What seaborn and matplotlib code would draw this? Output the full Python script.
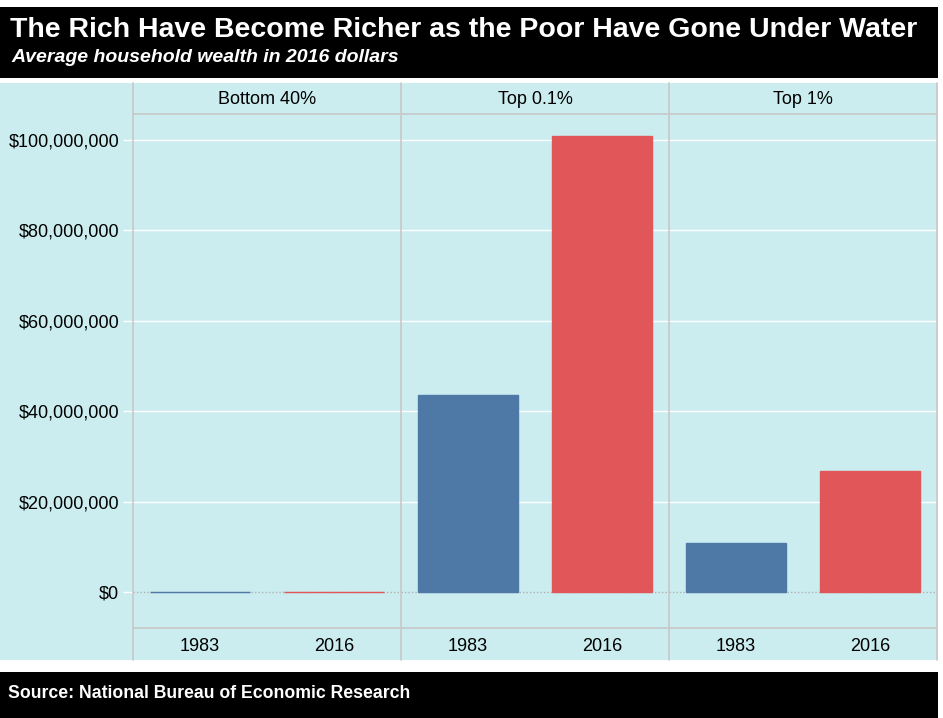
import pandas as pd
import matplotlib
matplotlib.use("Agg")
import matplotlib.pyplot as plt
import seaborn as sns
from matplotlib.patches import Rectangle
from matplotlib.lines import Line2D
from matplotlib.ticker import FuncFormatter

# Data: average household wealth (2016 dollars)
groups = ["Bottom 40%", "Top 0.1%", "Top 1%"]
years = ["1983", "2016"]
wealth_1983 = [64_000, 43_500_000, 10_800_000]
wealth_2016 = [-8_900, 100_900_000, 26_700_000]
y_ticks = [0, 20_000_000, 40_000_000, 60_000_000, 80_000_000, 100_000_000]

df = pd.DataFrame({
    "group": groups * 2,
    "year": [years[0]] * 3 + [years[1]] * 3,
    "wealth": wealth_1983 + wealth_2016,
})

W, H = 943, 718
bg = "#cbedf0"
border = "#c8c8c8"
colors = {"1983": "#4e79a7", "2016": "#e15759"}

sns.set_theme(style="white")
plt.rcParams["font.family"] = ["Liberation Sans", "DejaVu Sans"]

fig = plt.figure(figsize=(W / 100, H / 100), dpi=100)
fig.patch.set_facecolor("white")


def fx(x):
    return x / W


def fy(y):
    return 1 - y / H


def rect(x0, y0, x1, y1, c):
    fig.add_artist(Rectangle((fx(x0), fy(y1)), fx(x1 - x0), (y1 - y0) / H,
                             transform=fig.transFigure, color=c, zorder=-5, lw=0))


def line(x0, y0, x1, y1):
    fig.add_artist(Line2D([fx(x0), fx(x1)], [fy(y0), fy(y1)],
                          transform=fig.transFigure, color=border, lw=1.2, zorder=5))


# header, panel background and footer
rect(0, 7, 938, 78, "black")
rect(0, 83, 938, 660, bg)
rect(0, 672, 938, 718, "black")

fig.text(fx(10), fy(30), "The Rich Have Become Richer as the Poor Have Gone Under Water",
         color="white", fontsize=20.5, fontweight="bold", va="center", ha="left")
fig.text(fx(11), fy(57), "Average household wealth in 2016 dollars",
         color="white", fontsize=14, fontweight="bold", fontstyle="italic", va="center", ha="left")
fig.text(fx(8), fy(694), "Source: National Bureau of Economic Research",
         color="white", fontsize=12.7, fontweight="bold", va="center", ha="left")

left, top, bottom = 133, 114, 628
pw = 268
px_per_unit = 452 / 100_000_000  # $0 at y=592, $100M at y=140
ymax = (592 - top) / px_per_unit
ymin = -(bottom - 592) / px_per_unit

for i, g in enumerate(groups):
    x0 = left + pw * i
    ax = fig.add_axes([fx(x0), fy(bottom), pw / W, (bottom - top) / H])
    ax.set_facecolor("none")
    ax.set_axisbelow(True)
    sub = df[df["group"] == g]
    sns.barplot(data=sub, x="year", y="wealth", hue="year", order=years,
                palette=colors, width=0.75, legend=False, ax=ax,
                saturation=1, linewidth=1)
    for bar, yr in zip(ax.patches, years):
        bar.set_edgecolor(colors[yr])
        bar.set_zorder(2)
    ax.set_ylim(ymin, ymax)
    ax.set_xlim(-0.5, 1.5)
    for t in y_ticks[1:]:
        ax.axhline(t, color="white", lw=1, zorder=0)
    ax.axhline(0, color="#b0b0b0", lw=1, ls=(0, (1, 1.5)), zorder=0.5)
    ax.set_yticks(y_ticks)
    ax.set_xlabel("")
    ax.set_ylabel("")
    for s in ax.spines.values():
        s.set_visible(False)
    ax.tick_params(axis="x", length=0, pad=7, labelsize=13, colors="black")
    ax.set_xticks([0.5], minor=True)
    ax.tick_params(axis="x", which="minor", length=4, color="white", width=1)
    if i == 0:
        ax.yaxis.set_major_formatter(FuncFormatter(lambda v, p: f"${v:,.0f}"))
        ax.tick_params(axis="y", length=7, width=1, color="white", pad=3,
                       labelsize=13, left=True, labelcolor="black")
    else:
        ax.tick_params(axis="y", left=False, labelleft=False)
    fig.text(fx(x0 + pw / 2), fy(99), g, fontsize=13, ha="center", va="center", color="black")

# panel borders
for i in range(4):
    line(left + pw * i, 83, left + pw * i, 660)
line(left, top, left + pw * 3, top)
line(left, bottom, left + pw * 3, bottom)

fig.savefig("out.png", dpi=100, facecolor="white")
